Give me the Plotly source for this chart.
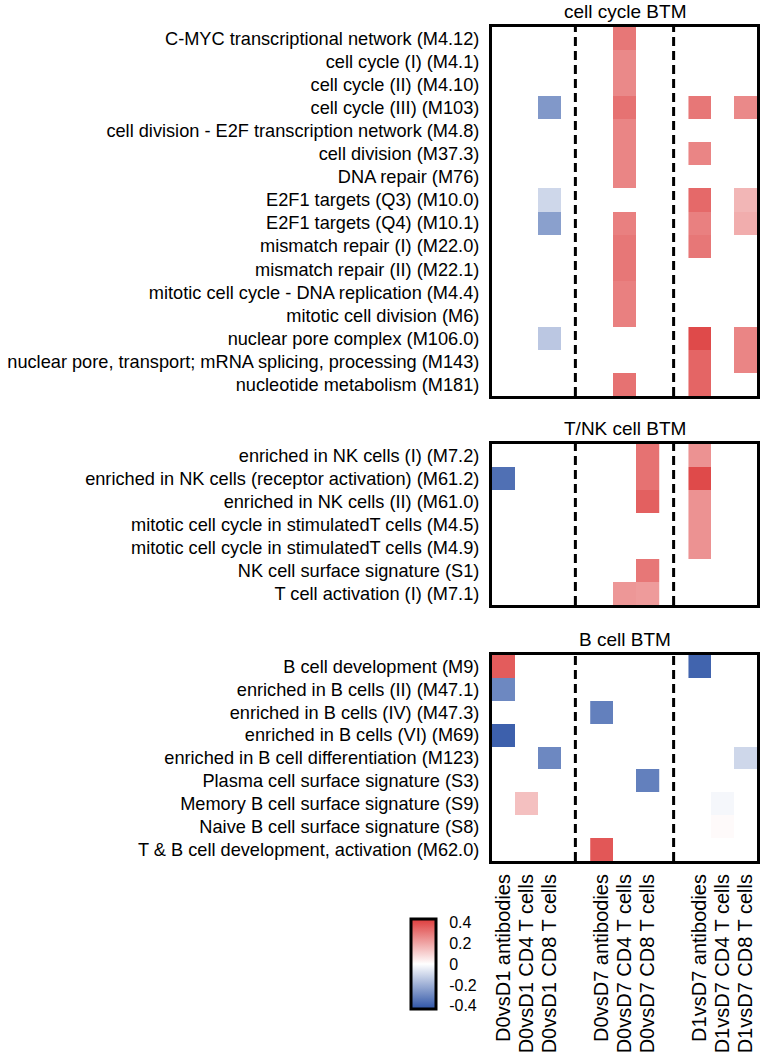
import plotly.graph_objects as go

N = None
FONT = "Liberation Sans, Arial, sans-serif"

columns = ["D0vsD1 antibodies", "D0vsD1 CD4 T cells", "D0vsD1 CD8 T cells",
           "D0vsD7 antibodies", "D0vsD7 CD4 T cells", "D0vsD7 CD8 T cells",
           "D1vsD7 antibodies", "D1vsD7 CD4 T cells", "D1vsD7 CD8 T cells"]

panel_titles = ["cell cycle BTM", "T/NK cell BTM", "B cell BTM"]

cc_rows = ["C-MYC transcriptional network (M4.12)", "cell cycle (I) (M4.1)", "cell cycle (II) (M4.10)",
           "cell cycle (III) (M103)", "cell division - E2F transcription network (M4.8)",
           "cell division (M37.3)", "DNA repair (M76)", "E2F1 targets (Q3) (M10.0)",
           "E2F1 targets (Q4) (M10.1)", "mismatch repair (I) (M22.0)", "mismatch repair (II) (M22.1)",
           "mitotic cell cycle - DNA replication (M4.4)", "mitotic cell division (M6)",
           "nuclear pore complex (M106.0)", "nuclear pore, transport; mRNA splicing, processing (M143)",
           "nucleotide metabolism (M181)"]
cc_vals = [
    [N, N, N,      N, 0.30, N,   N, N, N],
    [N, N, N,      N, 0.26, N,   N, N, N],
    [N, N, N,      N, 0.26, N,   N, N, N],
    [N, N, -0.26,  N, 0.31, N,   0.30, N, 0.26],
    [N, N, N,      N, 0.27, N,   N, N, N],
    [N, N, N,      N, 0.27, N,   0.27, N, N],
    [N, N, N,      N, 0.27, N,   N, N, N],
    [N, N, -0.10,  N, N, N,      0.33, N, 0.16],
    [N, N, -0.24,  N, 0.28, N,   0.28, N, 0.18],
    [N, N, N,      N, 0.30, N,   0.30, N, N],
    [N, N, N,      N, 0.30, N,   N, N, N],
    [N, N, N,      N, 0.28, N,   N, N, N],
    [N, N, N,      N, 0.28, N,   N, N, N],
    [N, N, -0.14,  N, N, N,      0.40, N, 0.27],
    [N, N, N,      N, N, N,      0.34, N, 0.27],
    [N, N, N,      N, 0.31, N,   0.34, N, N],
]

tnk_rows = ["enriched in NK cells (I) (M7.2)", "enriched in NK cells (receptor activation) (M61.2)",
            "enriched in NK cells (II) (M61.0)", "mitotic cell cycle in stimulatedT cells (M4.5)",
            "mitotic cell cycle in stimulatedT cells (M4.9)", "NK cell surface signature (S1)",
            "T cell activation (I) (M7.1)"]
tnk_vals = [
    [N, N, N,      N, N, 0.31,     0.24, N, N],
    [-0.36, N, N,  N, N, 0.31,     0.40, N, N],
    [N, N, N,      N, N, 0.35,     0.24, N, N],
    [N, N, N,      N, N, N,        0.24, N, N],
    [N, N, N,      N, N, N,        0.24, N, N],
    [N, N, N,      N, N, 0.30,     N, N, N],
    [N, N, N,      N, 0.23, 0.22,  N, N, N],
]

b_rows = ["B cell development (M9)", "enriched in B cells (II) (M47.1)", "enriched in B cells (IV) (M47.3)",
          "enriched in B cells (VI) (M69)", "enriched in B cell differentiation (M123)",
          "Plasma cell surface signature (S3)", "Memory B cell surface signature (S9)",
          "Naive B cell surface signature (S8)", "T & B cell development, activation (M62.0)"]
b_vals = [
    [0.36, N, N,   N, N, N,        -0.39, N, N],
    [-0.30, N, N,  N, N, N,        N, N, N],
    [N, N, N,      -0.32, N, N,    N, N, N],
    [-0.40, N, N,  N, N, N,        N, N, N],
    [N, N, -0.30,  N, N, N,        N, N, -0.10],
    [N, N, N,      N, N, -0.32,    N, N, N],
    [N, 0.14, N,   N, N, N,        N, -0.02, N],
    [N, N, N,      N, N, N,        N, 0.01, N],
    [N, N, N,      0.37, N, N,     N, N, N],
]

cbar_ticks = [0.4, 0.2, 0, -0.2, -0.4]

# geometry in page pixels (page body margin removed below)
W, H = 764, 1060


def fx(p):
    return p / W


def fy(p):
    return 1 - p / H


GAP = 1.3
group_offsets = [0, 3 + GAP, 6 + 2 * GAP]
XMAX = 9 + 2 * GAP
x_px = (492, 757)
panel_px = [(27, 396), (444, 605), (655, 861)]
CMIN, CMAX = -0.43, 0.43
CB_LEFT, CB_RIGHT, CB_TOP, CB_BOT = 411, 436, 919, 1009

panels = [(cc_rows, cc_vals), (tnk_rows, tnk_vals), (b_rows, b_vals)]

fig = go.Figure()
shapes = []
annotations = []
centers = [group_offsets[g] + k + 0.5 for g in range(3) for k in range(3)]

for p, (rows, vals) in enumerate(panels):
    ax = "" if p == 0 else str(p + 1)
    for g in range(3):
        z = [[r[3 * g + k] for k in range(3)] for r in vals]
        fig.add_trace(go.Heatmap(
            z=z, x=[group_offsets[g] + k + 0.5 for k in range(3)], y=rows,
            coloraxis="coloraxis", xaxis="x" + ax, yaxis="y" + ax,
            hoverongaps=False))
    top, bot = panel_px[p]
    fig.layout["xaxis" + ax] = dict(
        domain=[fx(x_px[0]), fx(x_px[1])], range=[0, XMAX], anchor="y" + ax,
        showgrid=False, zeroline=False, showline=True, mirror=True,
        linecolor="black", linewidth=3, ticks="",
        showticklabels=(p == 2),
        tickmode="array", tickvals=centers, ticktext=columns, tickangle=-90,
        tickfont=dict(family=FONT, size=20, color="black"),
        ticklabelstandoff=2, automargin=False)
    fig.layout["yaxis" + ax] = dict(
        domain=[fy(bot), fy(top)], anchor="x" + ax,
        type="category", range=[len(rows) - 0.5, -0.5],
        showgrid=False, zeroline=False, showline=True, mirror=True,
        linecolor="black", linewidth=3, ticks="",
        tickfont=dict(family=FONT, size=18.2, color="black"),
        ticklabelstandoff=6, automargin=False)
    for xd in (3 + GAP / 2, 6 + GAP * 1.5):
        shapes.append(dict(type="line", xref="x" + ax, yref="y" + ax + " domain",
                           x0=xd, x1=xd, y0=0, y1=1,
                           line=dict(color="black", width=3, dash="9px,5px")))
    annotations.append(dict(text=panel_titles[p], xref="x" + ax + " domain", yref="y" + ax + " domain",
                            x=0.5, y=1, yshift=3, xanchor="center", yanchor="bottom", showarrow=False,
                            font=dict(family=FONT, size=19, color="black")))

# inside tick marks on both sides of the colour bar
for t in cbar_ticks:
    ypix = CB_BOT - (t - CMIN) / (CMAX - CMIN) * (CB_BOT - CB_TOP)
    for xa, xb in ((CB_LEFT, CB_LEFT + 6), (CB_RIGHT - 6, CB_RIGHT)):
        shapes.append(dict(type="line", xref="paper", yref="paper",
                           x0=fx(xa), x1=fx(xb), y0=fy(ypix), y1=fy(ypix),
                           line=dict(color="black", width=3)))

fig.update_layout(
    width=W, height=H, margin=dict(l=0, r=0, t=0, b=0),
    paper_bgcolor="white", plot_bgcolor="white",
    font=dict(family=FONT, color="black"),
    shapes=shapes, annotations=annotations,
    coloraxis=dict(
        colorscale=[[0, "#2e54a6"], [0.5, "#ffffff"], [1, "#dd3c3c"]],
        cmin=CMIN, cmax=CMAX,
        colorbar=dict(
            x=fx(CB_LEFT), xanchor="left", y=fy(CB_BOT), yanchor="bottom",
            thickness=CB_RIGHT - CB_LEFT, thicknessmode="pixels",
            len=CB_BOT - CB_TOP, lenmode="pixels",
            xpad=0, ypad=0, outlinewidth=3, outlinecolor="black",
            tickmode="array", tickvals=cbar_ticks,
            ticktext=[str(t) for t in cbar_ticks],
            ticks="outside", ticklen=9, tickwidth=1, tickcolor="rgba(0,0,0,0)",
            tickfont=dict(family=FONT, size=16, color="black"))),
    showlegend=False)

fig.write_html("out.html", config={"displayModeBar": False},
               post_script="document.body.style.margin='0';document.body.style.overflow='hidden';")
